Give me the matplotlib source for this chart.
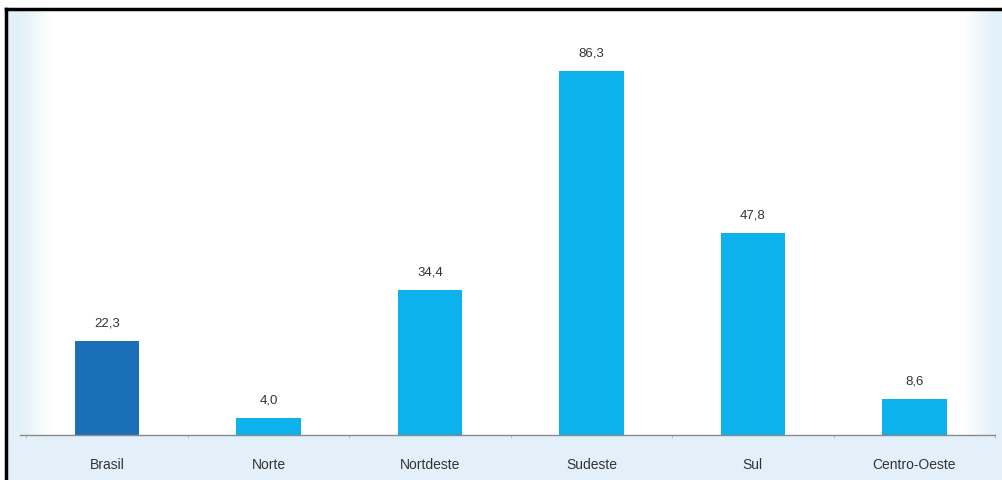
import matplotlib.pyplot as plt
import numpy as np
from matplotlib.lines import Line2D

regioes = ["Brasil", "Norte", "Nortdeste", "Sudeste", "Sul", "Centro-Oeste"]
valores = [22.3, 4.0, 34.4, 86.3, 47.8, 8.6]
cores = ["#1b6fb8", "#0db1ec", "#0db1ec", "#0db1ec", "#0db1ec", "#0db1ec"]

W, H = 1003, 481
fig = plt.figure(figsize=(W / 100, H / 100), dpi=100, facecolor="#e3f0f9")
plt.rcParams["font.family"] = ["Liberation Sans", "DejaVu Sans"]


def px(x0, y0, x1, y1):
    # figure-fraction rect from pixel box (top-left origin)
    return [x0 / W, 1 - y1 / H, (x1 - x0) / W, (y1 - y0) / H]


# white panel with soft blue edges
bg = fig.add_axes(px(8, 12, W, 436))
xs = np.linspace(0, 1, 500)
left = np.clip((xs * (W - 8) - 12) / 30, 0, 1)
right = np.clip(((1 - xs) * (W - 8) - 8) / 30, 0, 1)
fade = np.minimum(left, right)
blue = np.array([0.89, 0.945, 0.975])
img = blue[None, :] * (1 - fade[:, None]) + fade[:, None]
bg.imshow(img[None, :, :], aspect="auto", extent=(0, 1, 0, 1))
bg.axis("off")

ax = fig.add_axes(px(20, 12, 995, 436))
ax.patch.set_alpha(0)
x = np.arange(len(regioes))
bars = ax.bar(x, valores, width=0.4, color=cores)
for b, v in zip(bars, valores):
    ax.annotate(f"{v:.1f}".replace(".", ","), (b.get_x() + b.get_width() / 2, v),
                xytext=(0, 9), textcoords="offset points", ha="center", va="bottom",
                fontsize=9.5, color="#333333")

ax.set_xlim(-0.54, 5.5)
ax.set_ylim(0, 100.5)
ax.set_xticks(x)
ax.set_xticklabels(regioes, fontsize=10, color="#333333")
ax.set_xticks(np.arange(-0.5, 6, 1), minor=True)
ax.tick_params(axis="x", which="major", length=0, pad=16)
ax.tick_params(axis="x", which="minor", length=2, color="#b0b0b0", direction="out")
ax.set_yticks([])
for s in ["top", "right", "left"]:
    ax.spines[s].set_visible(False)
ax.spines["bottom"].set_color("#8a8a8a")
ax.spines["bottom"].set_linewidth(1)

# outer frame lines (top and left)
fig.add_artist(Line2D([6 / W, 1], [1 - 10 / H] * 2, color="black", lw=2.5,
                      transform=fig.transFigure))
fig.add_artist(Line2D([6.5 / W] * 2, [0, 1 - 10 / H], color="black", lw=2.5,
                      transform=fig.transFigure))
fig.patches.append(plt.Rectangle((0, 1 - 9 / H), 1, 9 / H, color="white",
                                 transform=fig.transFigure, figure=fig, zorder=-1))
fig.patches.append(plt.Rectangle((0, 0), 5 / W, 1, color="white",
                                 transform=fig.transFigure, figure=fig, zorder=-1))

fig.savefig("out.png", dpi=100, facecolor=fig.get_facecolor())
